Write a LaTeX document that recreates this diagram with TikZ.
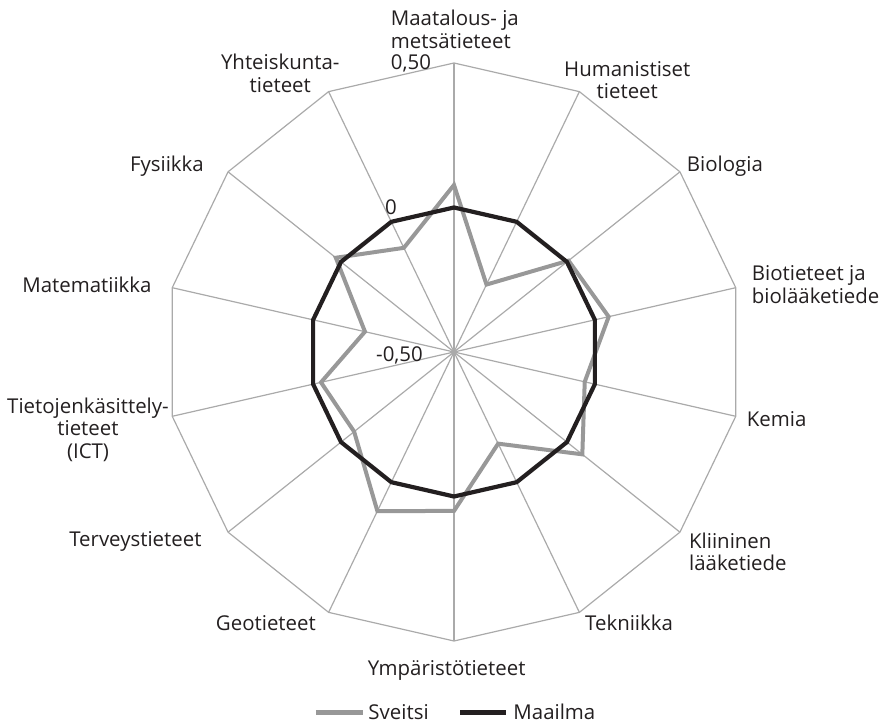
\documentclass[tikz,border=0pt]{standalone}
\usepackage{fontspec}
\setmainfont{Open Sans}
\definecolor{gridgray}{RGB}{170,170,170}
\definecolor{swissgray}{RGB}{152,152,152}
\definecolor{worldblack}{RGB}{35,31,32}
\definecolor{inktext}{RGB}{35,31,32}
\begin{document}
\begin{tikzpicture}[x=1bp,y=1bp,
  every node/.style={font=\fontsize{20.5}{22.5}\selectfont, text=inktext, inner sep=0pt},
  gridline/.style={draw=gridgray, line width=1.2bp},
  swissline/.style={draw=swissgray, line width=4bp},
  worldline/.style={draw=worldblack, line width=4.2bp},
  lbl/.style={anchor=base, align=center},
  lblL/.style={anchor=base west, align=left},
  lblR/.style={anchor=base east, align=right}]
\useasboundingbox (-454,-373) rectangle (432,352);
\def\R{289}
% centre of the chart
\coordinate (c) at (0,0);
% Sveitsi values, clockwise from the top axis
\def\svals{{0.078,-0.241,0.007,0.049,-0.036,0.068,-0.148,0.05,0.111,-0.058,-0.028,-0.184,0.023,-0.10}}
\foreach \i in {0,...,13}{
  \pgfmathsetmacro{\ang}{90-\i*360/14}
  \pgfmathsetmacro{\sv}{\svals[\i]}
  \coordinate (o\i) at (\ang:\R);
  \coordinate (m\i) at (\ang:{0.5*\R});
  \coordinate (s\i) at (\ang:{(\sv+0.5)*\R});
}
% spokes and outer ring
\foreach \i in {0,...,13}{ \draw[gridline] (c) -- (o\i); }
\draw[gridline] (o0) \foreach \i in {1,...,13}{ -- (o\i) } -- cycle;
% data series
\draw[swissline] (s0) \foreach \i in {1,...,13}{ -- (s\i) } -- cycle;
\draw[worldline] (m0) \foreach \i in {1,...,13}{ -- (m\i) } -- cycle;
% category labels (multi-line nodes sit on the baseline of their last line)
\node[lblL] (l0) at (-63.3,303.7) {Maatalous- ja\\metsätieteet};
\node[lbl] (l1) at (173.3,253) {Humanistiset\\tieteet};
\node[lblL] (l2) at (232.7,180.3) {Biologia};
\node[lblL] (l3) at (297.7,48.7) {Biotieteet ja\\biolääketiede};
\node[lblL] (l4) at (292.7,-74.7) {Kemia};
\node[lblL] (l5) at (235,-218.7) {Kliininen\\lääketiede};
\node[lblL] (l6) at (131,-278.7) {Tekniikka};
\node[lbl] (l7) at (-7.3,-323) {Ympäristötieteet};
\node[lblR] (l8) at (-138,-278.7) {Geotieteet};
\node[lblR] (l9) at (-252.3,-194.7) {Terveystieteet};
\node[lbl] (l10) at (-366,-106.3) {Tietojenkäsittely-\\tieteet\\(ICT)};
\node[lblR] (l11) at (-302.3,59.3) {Matematiikka};
\node[lblR] (l12) at (-250,180.3) {Fysiikka};
\node[lbl] (l13) at (-173.7,259.7) {Yhteiskunta-\\tieteet};
% axis values
\node[lblL] (v1) at (-63.3,282) {0,50};
\node[lblL] (v2) at (-69,137) {0};
\node[lblL] (v3) at (-78,-9.7) {-0,50};
% legend
\coordinate (ga) at (-138,-360.7);
\coordinate (gb) at (-91.3,-360.7);
\coordinate (ka) at (6,-360.7);
\coordinate (kb) at (52,-360.7);
\draw[draw=swissgray, line width=5.3bp] (ga) -- (gb);
\draw[draw=worldblack, line width=5.3bp] (ka) -- (kb);
\node[lblL] (g1) at (-85.7,-367.3) {Sveitsi};
\node[lblL] (g2) at (59.3,-367.3) {Maailma};
\end{tikzpicture}
\end{document}
